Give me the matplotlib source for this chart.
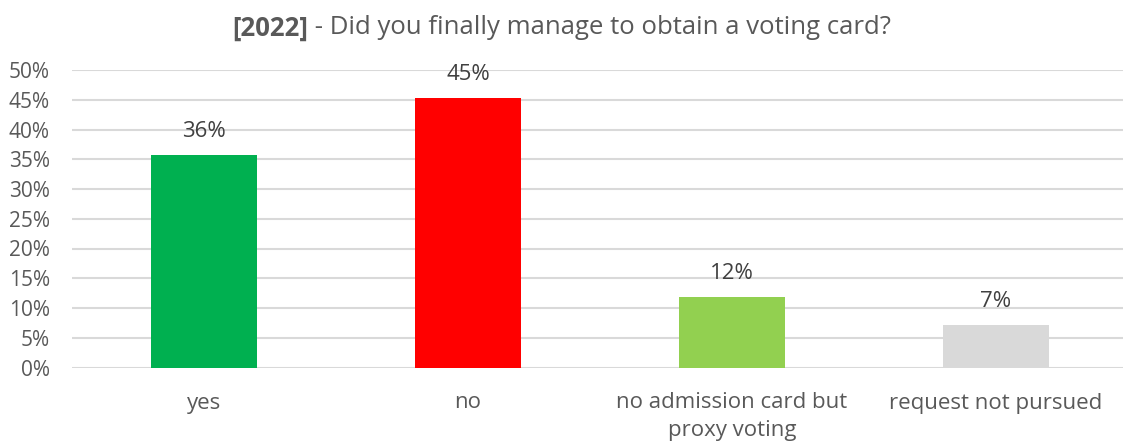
import matplotlib.pyplot as plt
import numpy as np

categories = ["yes", "no", "no admission card but\nproxy voting", "request not pursued"]
shares = [0.357, 0.453, 0.119, 0.072]
labels = ["36%", "45%", "12%", "7%"]
colors = ["#00B050", "#FF0000", "#92D050", "#D9D9D9"]
yticks = [0, 0.05, 0.10, 0.15, 0.20, 0.25, 0.30, 0.35, 0.40, 0.45, 0.50]

plt.rcParams['font.family'] = ['Open Sans', 'DejaVu Sans']
txt = "#595959"

fig = plt.figure(figsize=(11.23, 4.45), dpi=100)
ax = fig.add_axes([72 / 1123, 1 - 367.5 / 445, 1056 / 1123, 297.5 / 445])

x = np.arange(len(categories))
ax.bar(x, shares, width=0.4, color=colors, zorder=3)
for xi, v, lab in zip(x, shares, labels):
    ax.annotate(lab, (xi, v), xytext=(0, 17), textcoords="offset points",
                ha="center", va="center", fontsize=16, color="#404040")

ax.set_xlim(-0.5, len(categories) - 0.5)
ax.set_ylim(0, 0.5)
ax.set_yticks(yticks)
ax.set_yticklabels([f"{int(round(t * 100))}%" for t in yticks], fontsize=15, color=txt)
ax.set_xticks(x)
ax.set_xticklabels(categories, fontsize=16, color=txt, linespacing=1.4)
ax.grid(axis="y", color="#D9D9D9", linewidth=1.5, zorder=0)
for s in ax.spines.values():
    s.set_visible(False)
ax.tick_params(axis="both", length=0)
ax.tick_params(axis="y", pad=16)
ax.tick_params(axis="x", pad=18)

# two-part title: bold year, regular question
title_bold = fig.text(0, 0, "[2022]", fontsize=18.5, fontweight="bold", color=txt, va="center")
title_rest = fig.text(0, 0, " - Did you finally manage to obtain a voting card?", fontsize=18.5,
                      color=txt, va="center")
fig.canvas.draw()
r = fig.canvas.get_renderer()
wb = title_bold.get_window_extent(r).width
wr = title_rest.get_window_extent(r).width
W = fig.bbox.width
x0 = (W - wb - wr) / 2 / W
y0 = 1 - 28 / 445
title_bold.set_position((x0, y0))
title_rest.set_position((x0 + wb / W, y0))

fig.savefig("out.png", dpi=100)
